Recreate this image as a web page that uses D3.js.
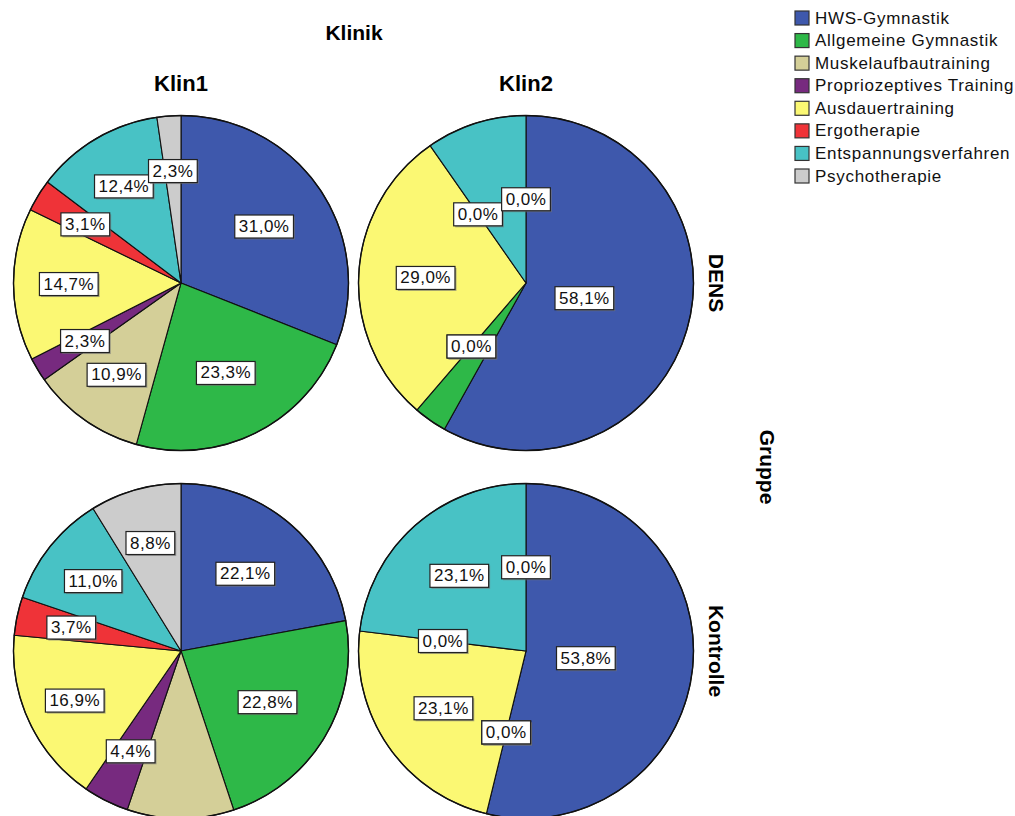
<!DOCTYPE html>
<html>
<head>
<meta charset="utf-8">
<script src="https://cdn.jsdelivr.net/npm/d3@7"></script>
<style>
  html, body { margin: 0; padding: 0; background: #fff; }
  svg { display: block; font-family: "Liberation Sans", Arial, sans-serif; }
</style>
</head>
<body>
<svg id="chart" width="1015" height="816"></svg>
<script>
// Treatment categories (legend order = slice order, clockwise from 12 o'clock)
const categories = [
  "HWS-Gymnastik",
  "Allgemeine Gymnastik",
  "Muskelaufbautraining",
  "Propriozeptives Training",
  "Ausdauertraining",
  "Ergotherapie",
  "Entspannungsverfahren",
  "Psychotherapie"
];

// Panel factors
const klinikLevels = ["Klin1", "Klin2"];
const gruppeLevels = ["DENS", "Kontrolle"];

// Percentages per panel (Gruppe x Klinik)
const densKlin1 = [31.0, 23.3, 10.9, 2.3, 14.7, 3.1, 12.4, 2.3];
const densKlin2 = [58.1, 3.2, 0.0, 0.0, 29.0, 0.0, 9.7, 0.0];
const kontrolleKlin1 = [22.1, 22.8, 10.3, 4.4, 16.9, 3.7, 11.0, 8.8];
const kontrolleKlin2 = [53.8, 0.0, 0.0, 0.0, 23.1, 0.0, 23.1, 0.0];

// Slices whose value label is not printed
const densKlin2Unlabeled = [1, 6];
const kontrolleKlin1Unlabeled = [2];

const panels = [
  { gruppe: "DENS", klinik: "Klin1", values: densKlin1, unlabeled: [] },
  { gruppe: "DENS", klinik: "Klin2", values: densKlin2, unlabeled: densKlin2Unlabeled },
  { gruppe: "Kontrolle", klinik: "Klin1", values: kontrolleKlin1, unlabeled: kontrolleKlin1Unlabeled },
  { gruppe: "Kontrolle", klinik: "Klin2", values: kontrolleKlin2, unlabeled: [] }
];

const palette = ["#3e58ac", "#2eb848", "#d4cf98", "#772a7f", "#fbf873", "#ef3338", "#48c2c5", "#cccccc"];

const svg = d3.select("#chart");

// Layout scales for the panel grid
const xPanel = d3.scalePoint().domain(klinikLevels).range([181, 526]);
const yPanel = d3.scalePoint().domain(gruppeLevels).range([283, 651]);
const color = d3.scaleOrdinal().domain(categories).range(palette);
const R = 167.5;

const fmt = v => v.toFixed(1).replace(".", ",") + "%";

const pie = d3.pie().sort(null).value(d => d.value);
const arc = d3.arc().innerRadius(0).outerRadius(R);

// Label distance from the centre, depending on slice size
const labelRadius = p => (p >= 50 ? 0.36 : p >= 20 ? 0.6 : p > 15 ? 0.7 : p > 0 ? 0.67 : 0.5) * R;

// Column / row headings
svg.append("text").attr("x", 354).attr("y", 40).attr("text-anchor", "middle")
  .attr("font-weight", "bold").attr("font-size", 21).text("Klinik");

klinikLevels.forEach(k => {
  svg.append("text").attr("x", xPanel(k)).attr("y", 91).attr("text-anchor", "middle")
    .attr("font-weight", "bold").attr("font-size", 22).text(k);
});

gruppeLevels.forEach(g => {
  svg.append("text")
    .attr("transform", `translate(716,${yPanel(g)}) rotate(90)`)
    .attr("text-anchor", "middle").attr("dominant-baseline", "central")
    .attr("font-weight", "bold").attr("font-size", 21).text(g);
});

svg.append("text")
  .attr("transform", `translate(767,${(yPanel("DENS") + yPanel("Kontrolle")) / 2}) rotate(90)`)
  .attr("text-anchor", "middle").attr("dominant-baseline", "central")
  .attr("font-weight", "bold").attr("font-size", 21).text("Gruppe");

// Pies
panels.forEach(p => {
  const data = categories.map((c, i) => ({ cat: c, value: p.values[i], idx: i }));
  const arcs = pie(data);
  const g = svg.append("g")
    .attr("transform", `translate(${xPanel(p.klinik)},${yPanel(p.gruppe)})`);

  g.selectAll("path.slice")
    .data(arcs.filter(d => d.data.value > 0))
    .join("path")
    .attr("class", "slice")
    .attr("d", arc)
    .attr("fill", d => color(d.data.cat))
    .attr("stroke", "#111")
    .attr("stroke-width", 1.1)
    .attr("stroke-linejoin", "round");

  g.append("circle").attr("r", R).attr("fill", "none")
    .attr("stroke", "#111").attr("stroke-width", 1.4);

  const labelData = arcs.filter(d => !p.unlabeled.includes(d.data.idx));
  const lab = g.selectAll("g.lab").data(labelData).join("g").attr("class", "lab")
    .attr("transform", d => {
      const a = (d.startAngle + d.endAngle) / 2;
      const r = labelRadius(d.data.value);
      return `translate(${r * Math.sin(a)},${-r * Math.cos(a)})`;
    });

  lab.each(function (d) {
    const el = d3.select(this);
    const t = el.append("text")
      .attr("text-anchor", "middle").attr("dominant-baseline", "central")
      .attr("font-size", 17).attr("letter-spacing", 0.5).attr("fill", "#111")
      .text(fmt(d.data.value));
    const bb = t.node().getBBox();
    const w = bb.width + 8, h = 23;
    el.insert("rect", "text")
      .attr("x", -w / 2 + 1.5).attr("y", -h / 2 + 1.5).attr("width", w).attr("height", h)
      .attr("fill", "#777").attr("opacity", 0.6);
    el.insert("rect", "text")
      .attr("x", -w / 2).attr("y", -h / 2).attr("width", w).attr("height", h)
      .attr("fill", "#fff").attr("stroke", "#222").attr("stroke-width", 1.2);
  });
});

// Legend
const legendY = d3.scalePoint().domain(categories).range([18, 176]);
const leg = svg.append("g");
const item = leg.selectAll("g").data(categories).join("g")
  .attr("transform", c => `translate(795,${legendY(c)})`);
item.append("rect").attr("x", 0).attr("y", -7).attr("width", 14).attr("height", 14)
  .attr("fill", c => color(c)).attr("stroke", "#333").attr("stroke-width", 1.2);
item.append("text").attr("x", 20).attr("y", 0).attr("dominant-baseline", "central")
  .attr("font-size", 17).attr("letter-spacing", 0.7).attr("fill", "#111").text(c => c);
</script>
</body>
</html>
